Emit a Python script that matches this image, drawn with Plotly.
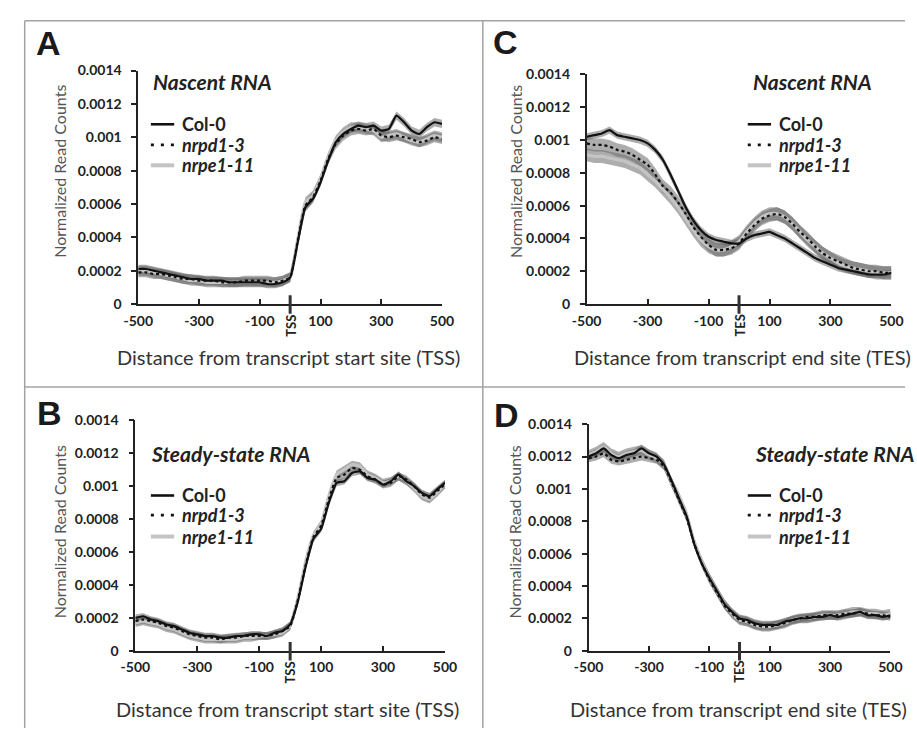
import plotly.graph_objects as go

# ---------------- data ----------------
positions = [-500, -475, -450, -425, -400, -375, -350, -325, -300, -275, -250, -225, -200,
             -175, -150, -125, -100, -75, -50, -25, 0, 25, 50, 75, 100, 125, 150, 175, 200,
             225, 250, 275, 300, 325, 350, 375, 400, 425, 450, 475, 500]

series_names = ["Col-0", "nrpd1-3", "nrpe1-11"]

# Panel A: nascent RNA around TSS
A_col0 = [0.00021, 0.00021, 0.00020, 0.00019, 0.00018, 0.00017, 0.00016, 0.00015, 0.00015, 0.00014,
          0.00014, 0.00014, 0.00013, 0.00013, 0.00013, 0.00013, 0.00013, 0.00012, 0.00012, 0.00013,
          0.00016, 0.00037, 0.00058, 0.00063, 0.00073, 0.00086, 0.00097, 0.00102, 0.00105, 0.00107,
          0.00106, 0.00107, 0.00104, 0.00105, 0.00113, 0.00109, 0.00104, 0.00102, 0.00106, 0.00109,
          0.00108]
A_nrpd1 = [0.00019, 0.00019, 0.00018, 0.00018, 0.00017, 0.00016, 0.00015, 0.00015, 0.00014, 0.00014,
           0.00014, 0.00013, 0.00013, 0.00013, 0.00014, 0.00014, 0.00014, 0.00014, 0.00013, 0.00014,
           0.00016, 0.00038, 0.00059, 0.00064, 0.00074, 0.00087, 0.00096, 0.00101, 0.00104, 0.00105,
           0.00104, 0.00105, 0.00101, 0.00100, 0.00101, 0.00100, 0.00099, 0.00097, 0.00098, 0.00100,
           0.00099]
A_nrpe1 = [0.00020, 0.00020, 0.00019, 0.00018, 0.00017, 0.00016, 0.00015, 0.00014, 0.00014, 0.00013,
           0.00013, 0.00013, 0.00013, 0.00013, 0.00013, 0.00013, 0.00013, 0.00013, 0.00013, 0.00014,
           0.00016, 0.00039, 0.00061, 0.00065, 0.00075, 0.00088, 0.00098, 0.00103, 0.00106, 0.00106,
           0.00105, 0.00104, 0.00100, 0.00101, 0.00102, 0.00100, 0.00098, 0.00097, 0.00099, 0.00101,
           0.00100]

# Panel B: steady-state RNA around TSS
B_col0 = [0.00020, 0.00021, 0.00019, 0.00018, 0.00016, 0.00015, 0.00013, 0.00011, 0.00010, 0.00009,
          0.00009, 0.00008, 0.00008, 0.00009, 0.00009, 0.00010, 0.00010, 0.00009, 0.00011, 0.00012,
          0.00016, 0.00030, 0.00051, 0.00068, 0.00074, 0.00090, 0.00102, 0.00103, 0.00108, 0.00109,
          0.00105, 0.00104, 0.00101, 0.00103, 0.00107, 0.00103, 0.00100, 0.00096, 0.00094, 0.00098,
          0.00102]
B_nrpd1 = [0.00018, 0.00019, 0.00018, 0.00017, 0.00015, 0.00014, 0.00012, 0.00010, 0.00009, 0.00008,
           0.00008, 0.00007, 0.00008, 0.00008, 0.00009, 0.00009, 0.00009, 0.00009, 0.00010, 0.00012,
           0.00015, 0.00031, 0.00052, 0.00069, 0.00076, 0.00092, 0.00105, 0.00107, 0.00111, 0.00110,
           0.00106, 0.00104, 0.00101, 0.00102, 0.00106, 0.00104, 0.00100, 0.00095, 0.00093, 0.00097,
           0.00101]
B_nrpe1 = [0.00017, 0.00018, 0.00017, 0.00016, 0.00014, 0.00013, 0.00011, 0.00009, 0.00008, 0.00007,
           0.00007, 0.00007, 0.00007, 0.00007, 0.00008, 0.00008, 0.00009, 0.00009, 0.00010, 0.00011,
           0.00015, 0.00032, 0.00054, 0.00070, 0.00077, 0.00094, 0.00107, 0.00110, 0.00113, 0.00112,
           0.00107, 0.00105, 0.00102, 0.00103, 0.00106, 0.00103, 0.00099, 0.00094, 0.00092, 0.00096,
           0.00101]

# Panel C: nascent RNA around TES
C_col0 = [0.00102, 0.00103, 0.00104, 0.00106, 0.00103, 0.00102, 0.00101, 0.00100, 0.00098, 0.00094,
          0.00088, 0.00079, 0.00069, 0.00059, 0.00051, 0.00045, 0.00041, 0.00039, 0.00038, 0.00037,
          0.00037, 0.00040, 0.00042, 0.00043, 0.00044, 0.00042, 0.00040, 0.00037, 0.00034, 0.00031,
          0.00028, 0.00026, 0.00024, 0.00022, 0.00021, 0.00020, 0.00019, 0.00018, 0.00018, 0.00018,
          0.00019]
C_nrpd1 = [0.00098, 0.00097, 0.00097, 0.00096, 0.00094, 0.00093, 0.00091, 0.00088, 0.00085, 0.00079,
           0.00072, 0.00068, 0.00062, 0.00055, 0.00047, 0.00041, 0.00036, 0.00033, 0.00033, 0.00034,
           0.00037, 0.00043, 0.00048, 0.00052, 0.00054, 0.00055, 0.00053, 0.00049, 0.00044, 0.00040,
           0.00035, 0.00031, 0.00028, 0.00026, 0.00024, 0.00022, 0.00021, 0.00020, 0.00020, 0.00019,
           0.00019]
C_nrpe1 = [0.00091, 0.00090, 0.00090, 0.00089, 0.00088, 0.00087, 0.00085, 0.00083, 0.00079, 0.00075,
           0.00070, 0.00065, 0.00059, 0.00052, 0.00045, 0.00039, 0.00035, 0.00033, 0.00033, 0.00035,
           0.00038, 0.00044, 0.00049, 0.00053, 0.00055, 0.00055, 0.00053, 0.00049, 0.00044, 0.00039,
           0.00035, 0.00031, 0.00028, 0.00025, 0.00023, 0.00022, 0.00021, 0.00020, 0.00019, 0.00019,
           0.00019]

# Panel D: steady-state RNA around TES
D_col0 = [0.00120, 0.00122, 0.00125, 0.00121, 0.00119, 0.00121, 0.00122, 0.00125, 0.00122, 0.00120,
          0.00115, 0.00105, 0.00094, 0.00083, 0.00066, 0.00054, 0.00045, 0.00037, 0.00029, 0.00024,
          0.00020, 0.00019, 0.00017, 0.00016, 0.00016, 0.00016, 0.00018, 0.00019, 0.00020, 0.00020,
          0.00021, 0.00021, 0.00022, 0.00021, 0.00022, 0.00023, 0.00024, 0.00022, 0.00022, 0.00021,
          0.00022]
D_nrpd1 = [0.00119, 0.00120, 0.00122, 0.00118, 0.00117, 0.00118, 0.00119, 0.00120, 0.00119, 0.00118,
           0.00114, 0.00104, 0.00093, 0.00082, 0.00066, 0.00054, 0.00044, 0.00036, 0.00028, 0.00023,
           0.00019, 0.00018, 0.00016, 0.00015, 0.00015, 0.00016, 0.00017, 0.00019, 0.00020, 0.00021,
           0.00021, 0.00022, 0.00022, 0.00022, 0.00023, 0.00023, 0.00024, 0.00023, 0.00022, 0.00022,
           0.00021]
D_nrpe1 = [0.00121, 0.00123, 0.00126, 0.00122, 0.00120, 0.00122, 0.00123, 0.00124, 0.00121, 0.00119,
           0.00115, 0.00104, 0.00095, 0.00084, 0.00067, 0.00055, 0.00045, 0.00037, 0.00029, 0.00023,
           0.00019, 0.00018, 0.00016, 0.00015, 0.00015, 0.00016, 0.00017, 0.00019, 0.00020, 0.00020,
           0.00021, 0.00022, 0.00022, 0.00022, 0.00023, 0.00024, 0.00024, 0.00023, 0.00023, 0.00022,
           0.00023]

# approximate standard-error half widths (per panel, per series)
A_sem = [0.000025, 0.000030, 0.000030]
B_sem = [0.000020, 0.000025, 0.000025]
C_sem = [0.000022, 0.000040, 0.000040]
D_sem = [0.000025, 0.000025, 0.000030]

x_tick_vals = [-500, -300, -100, 100, 300, 500]
x_tick_text = ["-500", "-300", "-100", "100", "300", "500"]
y_tick_vals = [0, 0.0002, 0.0004, 0.0006, 0.0008, 0.001, 0.0012, 0.0014]
y_tick_text = ["0", "0.0002", "0.0004", "0.0006", "0.0008", "0.001", "0.0012", "0.0014"]

panel_letters = ["A", "B", "C", "D"]
panel_titles = ["Nascent RNA", "Steady-state RNA", "Nascent RNA", "Steady-state RNA"]
site_labels = ["TSS", "TSS", "TES", "TES"]
x_titles = ["Distance from transcript start site (TSS)", "Distance from transcript start site (TSS)",
            "Distance from transcript end site (TES)", "Distance from transcript end site (TES)"]
y_title = "Normalized Read Counts"

# ---------------- layout geometry (pixels) ----------------
W, H = 917, 736
FONT = "Lato, 'Open Sans', sans-serif"


def px(x):
    return x / W


def py(y):
    return 1 - y / H


panels = [
    dict(data=[A_col0, A_nrpd1, A_nrpe1], sem=A_sem, box=(127, 440, 63, 302),
         letter=(20, 35), title=(204, 74, "center"), ytitle=(46, 166), xtitle=(282, 356),
         legend=(140, [118, 139, 160])),
    dict(data=[B_col0, B_nrpd1, B_nrpe1], sem=B_sem, box=(124, 443, 421, 657),
         letter=(21, 414), title=(223, 455, "center"), ytitle=(46, 535), xtitle=(281, 717),
         legend=(140, [498, 518, 540])),
    dict(data=[C_col0, C_nrpd1, C_nrpe1], sem=C_sem, box=(589, 903, 67, 302),
         letter=(490, 34), title=(822, 74, "center"), ytitle=(515, 166), xtitle=(750, 356),
         legend=(755, [118, 139, 160])),
    dict(data=[D_col0, D_nrpd1, D_nrpe1], sem=D_sem, box=(591, 902, 425, 657),
         letter=(491, 416), title=(760, 455, "left"), ytitle=(515, 535), xtitle=(745, 717),
         legend=(755, [498, 518, 540])),
]

line_styles = [
    dict(color="#111111", width=2.2, dash="solid"),
    dict(color="#111111", width=2.2, dash="dot"),
    dict(color="#c4c4c4", width=3.2, dash="solid"),
]
legend_styles = [
    dict(color="#111111", width=2.6, dash="solid"),
    dict(color="#111111", width=2.8, dash="3px,7px"),
    dict(color="#c4c4c4", width=4.0, dash="solid"),
]
band_color = "rgba(105,105,105,0.55)"

fig = go.Figure()
layout = dict(
    width=W, height=H,
    margin=dict(l=0, r=0, t=0, b=0),
    paper_bgcolor="white", plot_bgcolor="white",
    showlegend=False,
    font=dict(family=FONT, color="#222222"),
)
annotations = []
shapes = []

for i, p in enumerate(panels):
    n = i + 1
    xa = "x" if n == 1 else f"x{n}"
    ya = "y" if n == 1 else f"y{n}"
    x0, x1, ytop, ybot = p["box"]

    # error bands
    for s, ys in enumerate(p["data"]):
        up = [v + p["sem"][s] for v in ys]
        lo = [v - p["sem"][s] for v in ys]
        fig.add_trace(go.Scatter(x=positions + positions[::-1], y=up + lo[::-1],
                                 fill="toself", fillcolor=band_color, mode="lines",
                                 line=dict(width=0), hoverinfo="skip", showlegend=False,
                                 xaxis=xa, yaxis=ya))
    # lines (light gray first, then dotted, then black on top)
    for s in [2, 1, 0]:
        fig.add_trace(go.Scatter(x=positions, y=p["data"][s], mode="lines",
                                 line=dict(**line_styles[s], shape="spline", smoothing=0.5),
                                 name=series_names[s], xaxis=xa, yaxis=ya))

    layout["xaxis" if n == 1 else f"xaxis{n}"] = dict(
        domain=[px(x0), px(x1)], anchor=ya, range=[-500, 500],
        showline=True, linecolor="#222222", linewidth=1.6,
        ticks="inside", ticklen=5, tickwidth=1.6, tickcolor="#222222",
        tickvals=x_tick_vals, ticktext=x_tick_text, ticklabelstandoff=3,
        tickfont=dict(family=FONT, size=14, color="#222222", weight="bold"),
        showgrid=False, zeroline=False, fixedrange=True,
    )
    layout["yaxis" if n == 1 else f"yaxis{n}"] = dict(
        domain=[py(ybot), py(ytop)], anchor=xa, range=[0, 0.0014],
        showline=True, linecolor="#222222", linewidth=1.6,
        ticks="outside", ticklen=5, tickwidth=1.6, tickcolor="#222222",
        tickvals=y_tick_vals, ticktext=y_tick_text, ticklabelstandoff=7,
        tickfont=dict(family=FONT, size=14, color="#222222", weight="bold"),
        showgrid=False, zeroline=False, fixedrange=True,
    )

    # legend (drawn as key lines + labels)
    lx, rows = p["legend"]
    for s in range(3):
        shapes.append(dict(type="line", xref="paper", yref="paper",
                           x0=px(lx), x1=px(lx + 24), y0=py(rows[s]), y1=py(rows[s]),
                           line=legend_styles[s]))
        label = f"<b>{series_names[s]}</b>" if s == 0 else f"<b><i>{series_names[s]}</i></b>"
        annotations.append(dict(text=label, xref="paper", yref="paper",
                                x=px(lx + 31), y=py(rows[s]), showarrow=False,
                                xanchor="left", yanchor="middle", borderpad=0,
                                font=dict(family=FONT, size=18, color="#222222")))

    # site marker on x axis
    shapes.append(dict(type="line", xref=xa, yref="paper", x0=0, x1=0,
                       y0=py(ybot + 10), y1=py(ybot - 9), line=dict(color="#333333", width=3)))
    annotations.append(dict(text=f"<b>{site_labels[i]}</b>", xref=xa, yref="paper",
                            x=0, y=py(ybot + 22), textangle=-90, showarrow=False,
                            font=dict(family=FONT, size=13, color="#222222"),
                            xanchor="center", yanchor="middle"))
    # panel letter
    lx_, ly_ = p["letter"]
    annotations.append(dict(text=f"<b>{panel_letters[i]}</b>", xref="paper", yref="paper",
                            x=px(lx_), y=py(ly_), showarrow=False, xanchor="left",
                            yanchor="middle",
                            font=dict(family="Liberation Sans, Arial, sans-serif", size=34,
                                      color="#1a1a1a")))
    # panel title
    tx, ty, ta = p["title"]
    annotations.append(dict(text=f"<b><i>{panel_titles[i]}</i></b>", xref="paper", yref="paper",
                            x=px(tx), y=py(ty), showarrow=False, xanchor=ta, yanchor="middle",
                            font=dict(family=FONT, size=21, color="#222222")))
    # axis titles
    yx, yy = p["ytitle"]
    annotations.append(dict(text=y_title, xref="paper", yref="paper", x=px(yx), y=py(yy),
                            textangle=-90, showarrow=False, xanchor="center", yanchor="middle",
                            font=dict(family=FONT, size=16, color="#555555")))
    xx, xy = p["xtitle"]
    annotations.append(dict(text=x_titles[i], xref="paper", yref="paper", x=px(xx), y=py(xy),
                            showarrow=False, xanchor="center", yanchor="middle",
                            font=dict(family=FONT, size=20, color="#333333")))

# panel frame lines
frame = dict(color="#a3a3a3", width=1.5)
shapes += [
    dict(type="line", xref="paper", yref="paper", x0=px(10), x1=1, y0=py(12), y1=py(12), line=frame),
    dict(type="line", xref="paper", yref="paper", x0=px(10), x1=px(10), y0=py(12), y1=0, line=frame),
    dict(type="line", xref="paper", yref="paper", x0=px(482), x1=px(482), y0=py(12), y1=0, line=frame),
    dict(type="line", xref="paper", yref="paper", x0=px(10), x1=1, y0=py(387), y1=py(387), line=frame),
]

layout["annotations"] = annotations
layout["shapes"] = shapes
fig.update_layout(**layout)
fig.write_html("out.html", config={"displayModeBar": False},
               post_script="document.body.style.margin='0';document.body.style.overflow='hidden';")
